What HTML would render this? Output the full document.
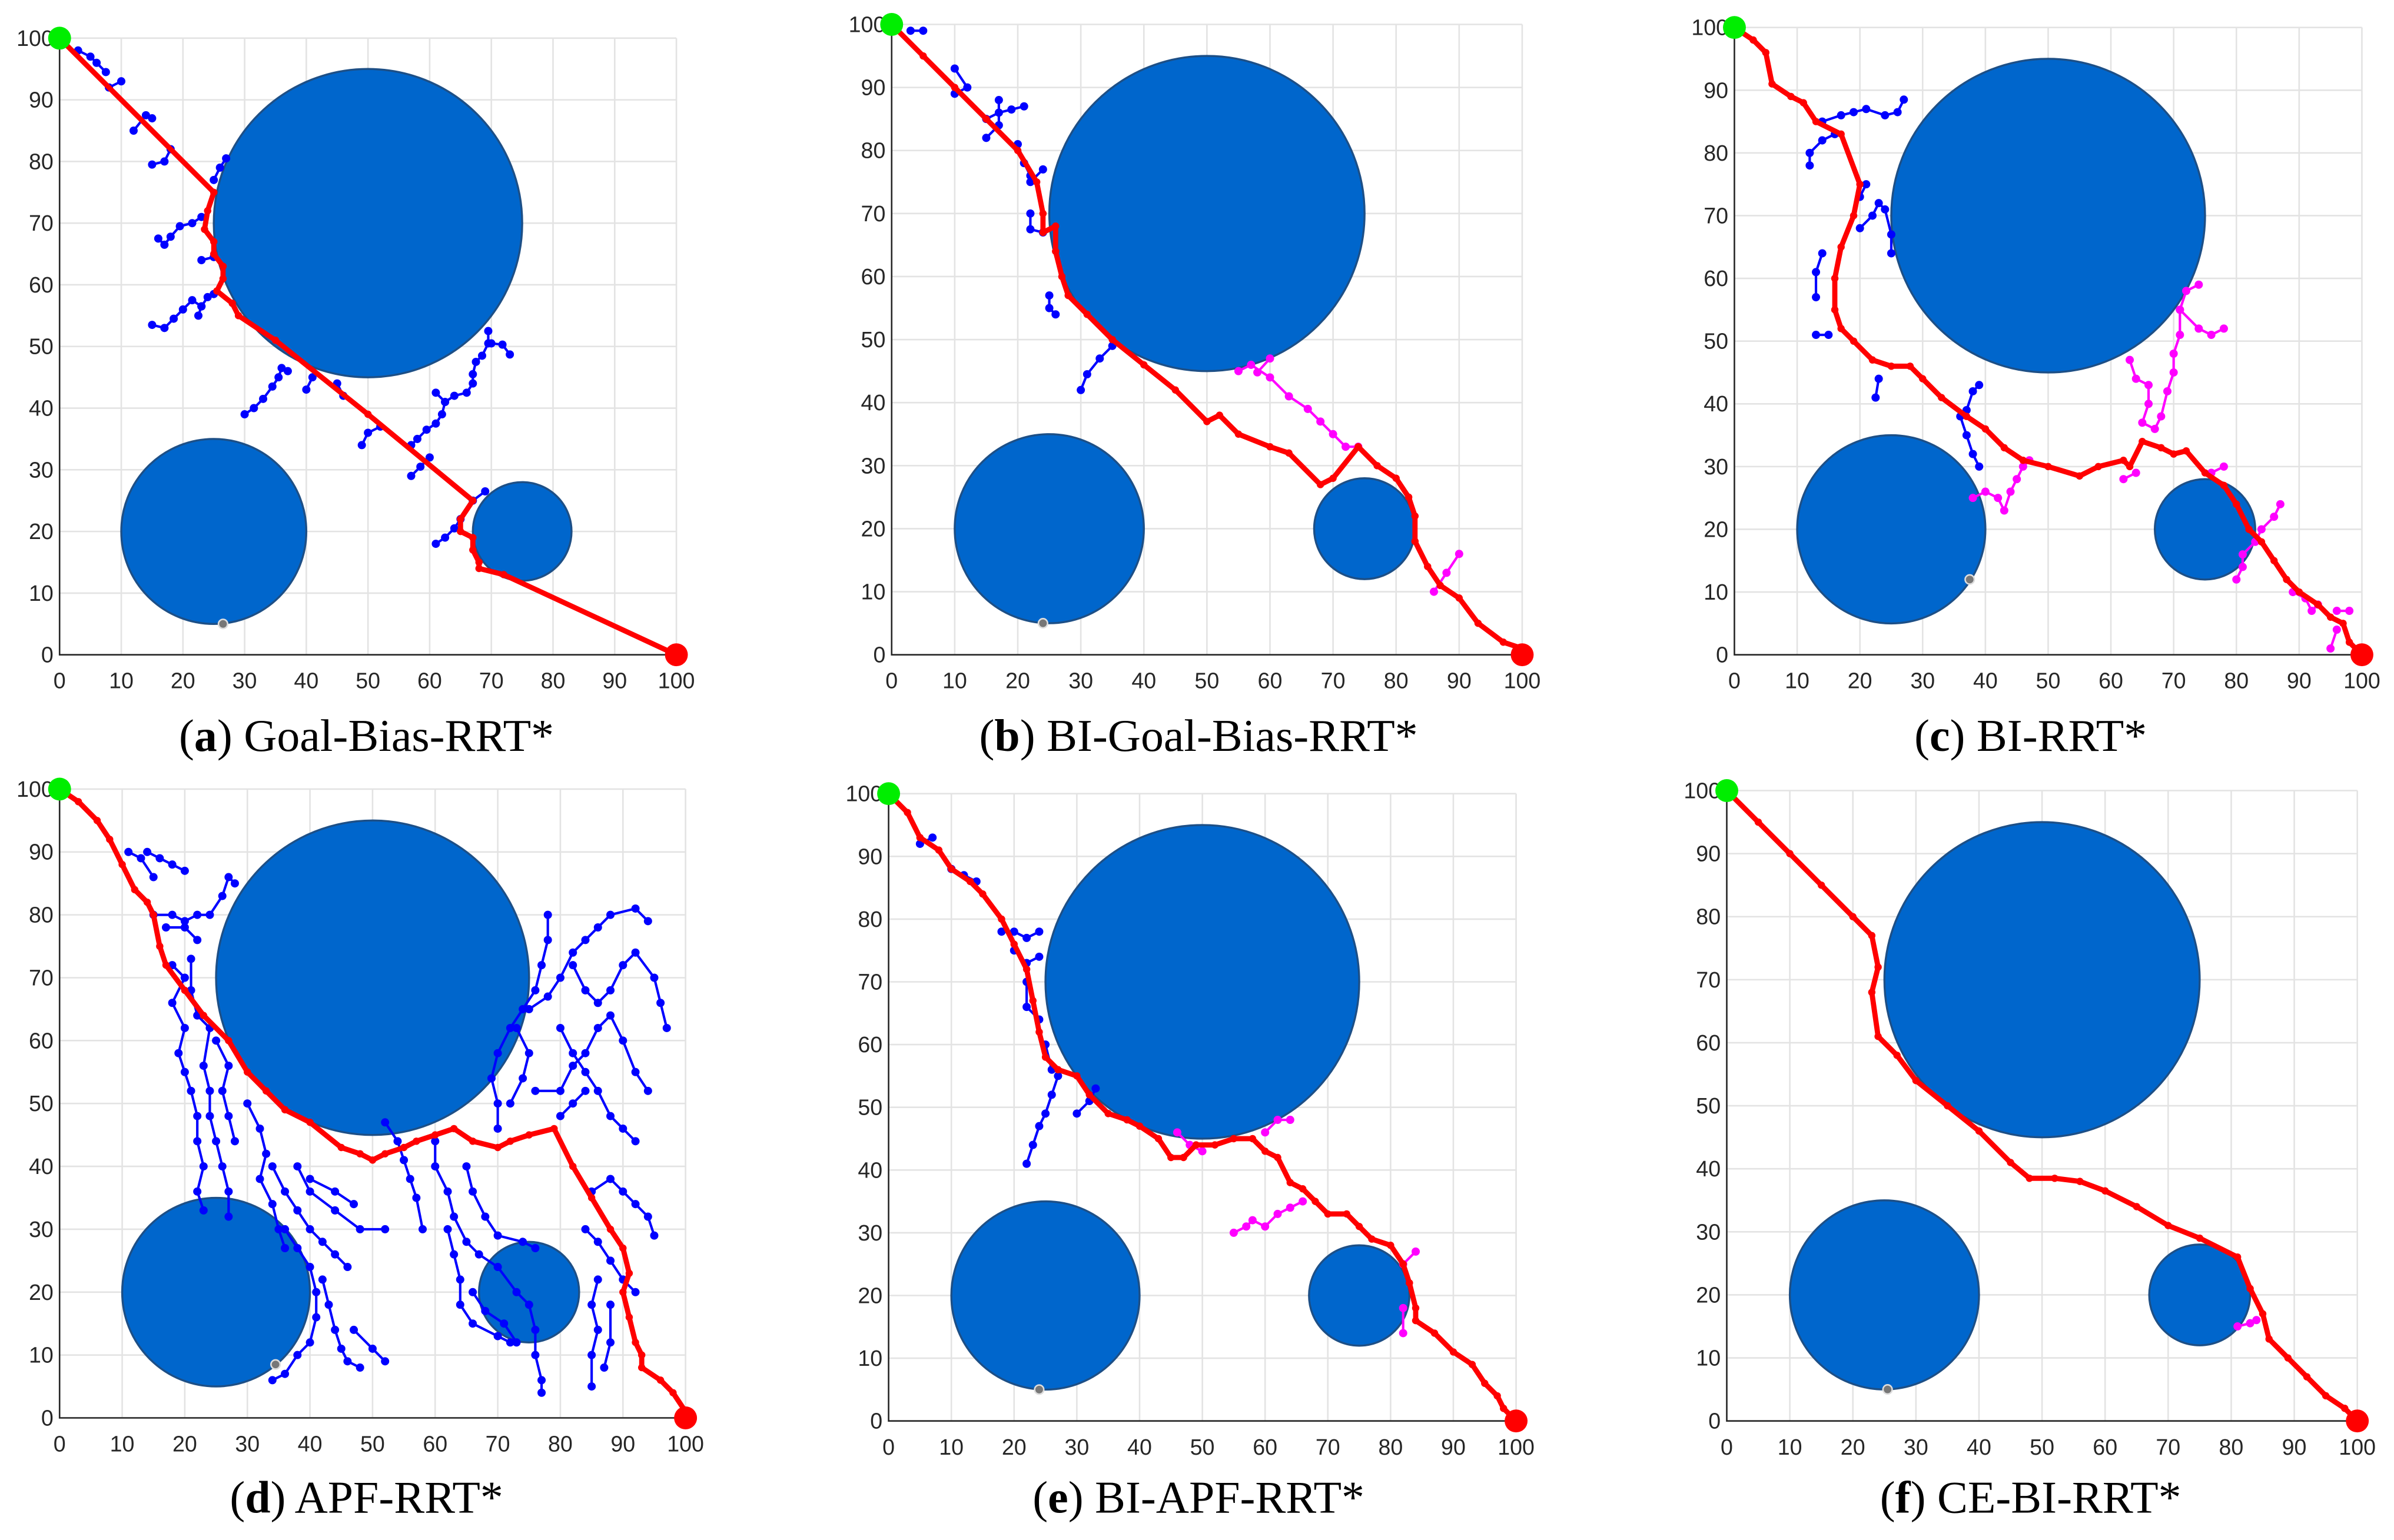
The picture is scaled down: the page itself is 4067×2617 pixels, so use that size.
<!DOCTYPE html>
<html><head><meta charset="utf-8"><style>
html,body{margin:0;padding:0;background:#fff;}
svg{display:block;}
</style></head><body>
<svg id="fig" xmlns="http://www.w3.org/2000/svg" width="4067" height="2617" viewBox="0 0 1568 1009"></svg>
<script>
const panelIds = ['a','b','c','d','e','f'];
const panelTitles = ['Goal-Bias-RRT*','BI-Goal-Bias-RRT*','BI-RRT*','APF-RRT*','BI-APF-RRT*','CE-BI-RRT*'];
const xTicks = [0,10,20,30,40,50,60,70,80,90,100];
const yTicks = [0,10,20,30,40,50,60,70,80,90,100];
const obstacles = [[50,70,25],[25,20,15],[75,20,8]];
const grayDots = [[26.5,5],[24,5],[37.5,12],[34.5,8.5],[24,5],[25.5,5]];
const pathA = [[0,100],[25,75],[24,72],[23.5,69],[25,67],[25,65],[26.5,63],[26.5,61],[25.5,59],[28,57],[29,55],[35,51],[50,39],[67,25],[65,22],[65,20],[67,19],[67,17],[68,15],[68,14],[72,13],[100,0]];
const pathB = [[0,100],[5,95],[10,90],[15,85],[20,80],[23,75],[24,70],[24,67],[26,68],[26,64],[27,60],[28,57],[31,54],[35,50],[40,46],[45,42],[50,37],[52,38],[55,35],[60,33],[63,32],[68,27],[70,28],[74,33],[77,30],[80,28],[82,25],[83,22],[83,18],[85,14],[87,11],[90,9],[93,5],[97,2],[100,1],[100,0]];
const pathC = [[0,100],[3,98],[5,96],[6,91],[9,89],[11,88],[13,85],[17,83],[20,75],[19,70],[17,65],[16,60],[16,55],[17,52],[19,50],[22,47],[25,46],[28,46],[30,44],[33,41],[37,38],[40,36],[43,33],[46,31],[50,30],[55,28.5],[58,30],[62,31],[63,30],[65,34],[68,33],[70,32],[72,32.5],[75,29],[78,27],[80,24],[82,20],[84,18],[86,15],[88,12],[90,10],[93,8],[95,6],[97,5],[98,2],[100,0]];
const pathD = [[0,100],[3,98],[6,95],[8,92],[10,88],[12,84],[14,82],[15,80],[16,75],[17,72],[20,68],[23,64],[27,60],[30,55],[33,52],[36,49],[40,47],[45,43],[48,42],[50,41],[52,42],[55,43],[57,44],[60,45],[63,46],[66,44],[70,43],[72,44],[75,45],[79,46],[82,40],[85,35],[88,30],[90,27],[91,23],[90,20],[91,16],[92,12],[93,10],[93,8],[96,6],[98,4],[100,1],[100,0]];
const pathE = [[0,100],[3,97],[5,93],[8,91],[10,88],[13,86],[15,84],[18,80],[20,76],[22,72],[23,67],[24,62],[25,58],[27,56],[30,55],[32,52],[35,49],[38,48],[40,47],[43,45],[45,42],[47,42],[49,44],[52,44],[55,45],[58,45],[60,43],[62,42],[64,38],[66,37],[68,35],[70,33],[73,33],[75,31],[77,29],[80,28],[82,25],[83,22],[84,18],[84,16],[87,14],[90,11],[93,9],[95,6],[97,4],[98,2],[100,0]];
const pathF = [[0,100],[5,95],[10,90],[15,85],[20,80],[23,77],[24,72],[23,68],[24,61],[27,58],[30,54],[35,50],[40,46],[45,41],[48,38.5],[52,38.5],[56,38],[60,36.5],[65,34],[70,31],[75,29],[81,26],[83,21],[85,17],[86,13],[89,10],[92,7],[95,4],[98,2],[100,0]];
const treeA = [[[3,98],[5,97],[6,96],[7.5,94.5]],[[8,92],[10,93]],[[12,85],[14,87.5],[15,87]],[[15,79.5],[17,80],[18,82]],[[16,67.5],[17,66.5],[18,67.8],[19.5,69.5],[21.5,70],[23,71]],[[15,53.5],[17,53],[18.5,54.5],[20,56],[21.5,57.5],[23,56.5],[24,58],[25,58.5]],[[22.5,55],[23,56.5]],[[30,39],[31.5,40],[33,41.5],[34.5,43.5],[35.5,45],[36,46.5],[37,46]],[[40,43],[41,45]],[[45,44],[46,42]],[[49,34],[50,36],[52,37]],[[57,29],[58.5,30.5],[60,32]],[[57,34],[58,35],[59.5,36.5],[61,37.5],[62,39],[62.5,41],[61,42.5]],[[62.5,41],[64,42],[66,42.5],[67,44],[67,45.5],[67.5,47.5],[68.5,48.5],[69.5,50.5],[69.5,52.5]],[[70,50.5],[71.8,50.3],[73,48.7]],[[61,18],[62.5,19],[64,20.5],[65,22]],[[67,25],[69,26.5]],[[25,77],[26,79],[27,80.5]],[[23,64],[25,64.5]]];
const treeB = [[[3,99],[5,99]],[[10,93],[12,90],[10,89]],[[15,85],[17,86],[19,86.5],[21,87]],[[15,82],[17,84],[17,88]],[[20,81],[21,78],[22,76]],[[22,75],[24,77]],[[22,70],[22,67.5],[24,67]],[[25,57],[25,55],[26,54]],[[30,42],[31,44.5],[33,47],[35,49]]];
const magB = [[[55,45],[57,46],[60,44],[63,41],[66,39],[68,37],[70,35],[72,33],[74,33]],[[60,47],[58,44.8]],[[86,10],[88,13],[90,16]]];
const treeC = [[[12,78],[12,80],[14,82],[16,83]],[[14,85],[17,86],[19,86.5],[21,87],[24,86],[26,86.5],[27,88.5]],[[14,64],[13,61],[13,57]],[[13,51],[15,51]],[[20,68],[22,70],[23,72],[24,71],[25,67],[25,64]],[[21,75],[20,73]],[[23,44],[22.5,41]],[[36,38],[37,35],[38,32],[39,30]],[[37,39],[38,42],[39,43]]];
const magC = [[[38,25],[40,26],[42,25],[43,23],[44,26],[45,28],[46,30],[47,31]],[[62,28],[64,29]],[[63,47],[64,44],[66,43],[66,40],[65,37],[67,36],[68,38],[69,42],[70,45],[70,48],[71,51],[71,55],[72,58],[74,59]],[[71,55],[74,52],[76,51],[78,52]],[[76,29],[78,30]],[[80,12],[81,14],[81,16],[83,18],[84,20],[86,22],[87,24]],[[89,10],[91,9],[92,7],[93,8]],[[96,7],[98,7]],[[95,1],[96,4]]];
const treeD = [[[14,90],[16,89],[18,88],[20,87]],[[11,90],[13,89],[15,86]],[[15,80],[18,80],[20,79],[22,80],[24,80],[26,83],[27,86],[28,85]],[[17,78],[20,78],[22,76]],[[18,72],[20,70],[18,66],[20,62],[19,58],[20,55],[21,52],[22,48],[22,44],[23,40],[22,36],[23,33]],[[21,73],[21,68],[22,64],[24,62],[23,56],[24,52],[24,48],[25,44],[26,40],[27,36],[27,32]],[[25,60],[27,56],[26,52],[27,48],[28,44]],[[30,50],[32,46],[33,42],[32,38],[34,34],[35,30],[36,27]],[[34,40],[36,36],[38,33],[40,30],[42,28],[44,26],[46,24]],[[36,30],[38,27],[40,24],[41,20],[41,16],[40,12],[38,10],[36,7],[34,6]],[[42,22],[43,18],[44,14],[45,11],[46,9],[48,8]],[[47,14],[50,11],[52,9]],[[40,38],[44,36],[47,34]],[[38,40],[40,36],[44,33],[48,30],[52,30]],[[52,47],[54,44],[55,41],[56,38],[57,35],[58,30]],[[60,44],[60,40],[62,36],[63,32],[65,28],[67,26],[70,24],[73,20],[75,18],[76,14],[76,10],[77,6],[77,4]],[[62,30],[63,26],[64,22],[64,18],[66,15],[70,13],[72,12]],[[66,20],[68,17],[71,15],[73,12]],[[65,40],[66,36],[68,32],[70,29],[74,28],[76,27]],[[70,46],[70,50],[69,54],[70,58],[72,62],[74,65],[76,68],[77,72],[78,76],[78,80]],[[76,52],[80,52],[82,56],[84,58],[86,62],[88,64],[90,60],[92,55],[94,52]],[[75,65],[78,67],[80,70],[82,74],[84,76],[86,78],[88,80],[92,81],[94,79]],[[82,72],[84,68],[86,66],[88,68],[90,72],[92,74],[95,70],[96,66],[97,62]],[[80,62],[82,58],[84,55],[86,52],[88,48],[90,46],[92,44]],[[80,48],[82,50],[84,52]],[[85,36],[88,38],[90,36],[92,34],[94,32],[95,29]],[[84,30],[86,28],[88,25],[90,22],[92,20]],[[86,22],[85,18],[86,14],[85,10],[85,5]],[[88,18],[88,12],[87,8]],[[72,50],[74,54],[75,58],[73,62]]];
const treeE = [[[5,92],[7,93]],[[10,88],[12,87],[14,86]],[[18,78],[20,78],[22,77],[24,78]],[[20,75],[22,73],[24,74]],[[22,70],[22,66],[24,64]],[[25,60],[26,56]],[[22,41],[23,44],[24,47],[25,49],[26,52],[27,55]],[[30,49],[32,51],[33,53]]];
const magE = [[[46,46],[48,44],[50,43]],[[55,30],[57,31],[58,32],[60,31],[62,33],[64,34],[66,35]],[[60,46],[62,48],[64,48]],[[82,18],[82,14]],[[82,25],[84,27]]];
const magF = [[[81,15],[83,15.5],[84,16]]];
const paths = [pathA,pathB,pathC,pathD,pathE,pathF];
const trees = [treeA,treeB,treeC,treeD,treeE,[]];
const mags = [[],magB,magC,[],magE,magF];
const frames = [[39,443,25,429],[584,997,16,429],[1136,1547,18,429],[39,449,517,929],[582,993,520,931],[1131,1544,518,931]];
const capPos = [[240,492],[785,492],[1330,492],[240,991],[785,991],[1330,991]];

const NS='http://www.w3.org/2000/svg';
const svg=document.getElementById('fig');
function mk(tag,attrs,parent){const e=document.createElementNS(NS,tag);for(const k in attrs)e.setAttribute(k,attrs[k]);parent.appendChild(e);return e;}
panelIds.forEach((pid,i)=>{
  const f=frames[i];
  const sx=v=>f[0]+v*(f[1]-f[0])/100;
  const sy=v=>f[3]-v*(f[3]-f[2])/100;
  const g=mk('g',{},svg);
  
  
  xTicks.forEach(t=>{
    const l=mk('line',{x1:sx(t),x2:sx(t),y1:sy(0),y2:sy(100),stroke:'#e3e3e3','stroke-width':1},g);
    
    
    const tx=mk('text',{x:sx(t),y:sy(0)+22,'text-anchor':'middle','font-size':14.5,'font-family':'Liberation Sans, sans-serif',fill:'#262626'},g);
    tx.textContent=t;
    
    
  });
  yTicks.forEach(t=>{
    const l=mk('line',{x1:sx(0),x2:sx(100),y1:sy(t),y2:sy(t),stroke:'#e3e3e3','stroke-width':1},g);
    
    
    const tx=mk('text',{x:sx(0)-4,y:sy(t)+5,'text-anchor':'end','font-size':14.5,'font-family':'Liberation Sans, sans-serif',fill:'#262626'},g);
    tx.textContent=t;
    
    
  });
  const ax=mk('path',{d:`M${sx(0)} ${sy(100)}V${sy(0)}H${sx(100)}`,fill:'none',stroke:'#262626','stroke-width':1},g);
  
  
  obstacles.forEach(o=>{
    const c=mk('ellipse',{cx:sx(o[0]),cy:sy(o[1]),rx:o[2]*(f[1]-f[0])/100,ry:o[2]*(f[3]-f[2])/100,fill:'#0066cc',stroke:'#1d4f86','stroke-width':1.3},g);
    
    
  });
  const drawBranches=(list,col,name)=>{list.forEach(b=>{
    const pl=mk('polyline',{points:b.map(p=>sx(p[0])+','+sy(p[1])).join(' '),fill:'none',stroke:col,'stroke-width':1.6},g);
    
    
    b.forEach(p=>{const d=mk('circle',{cx:sx(p[0]),cy:sy(p[1]),r:2.7,fill:col},g);
      
      });
  });};
  drawBranches(trees[i],'#0000ff','tree-branch');
  drawBranches(mags[i],'#ff00ff','goal-tree-branch');
  const pth=paths[i];
  const pl=mk('polyline',{points:pth.map(p=>sx(p[0])+','+sy(p[1])).join(' '),fill:'none',stroke:'#ff0000','stroke-width':3.4,'stroke-linejoin':'round'},g);
  
  
  pth.forEach(p=>{const d=mk('circle',{cx:sx(p[0]),cy:sy(p[1]),r:2.4,fill:'#ff0000'},g);
    
    });
  const gd=mk('circle',{cx:sx(grayDots[i][0]),cy:sy(grayDots[i][1]),r:3,fill:'#777',stroke:'#ddd','stroke-width':1},g);
  
  
  const st=mk('circle',{cx:sx(0),cy:sy(100),r:7.5,fill:'#00ee00'},g);
  
  
  const gl=mk('circle',{cx:sx(100),cy:sy(0),r:7.5,fill:'#ff0000'},g);
  
  
  const cap=mk('text',{x:capPos[i][0],y:capPos[i][1],'text-anchor':'middle','font-size':30,'font-family':'Liberation Serif, serif',fill:'#000'},g);
  
  
  const t1=mk('tspan',{},cap);t1.textContent='(';
  const t2=mk('tspan',{'font-weight':'bold'},cap);t2.textContent=pid;
  const t3=mk('tspan',{},cap);t3.textContent=') '+panelTitles[i];
});
</script>
</body></html>
